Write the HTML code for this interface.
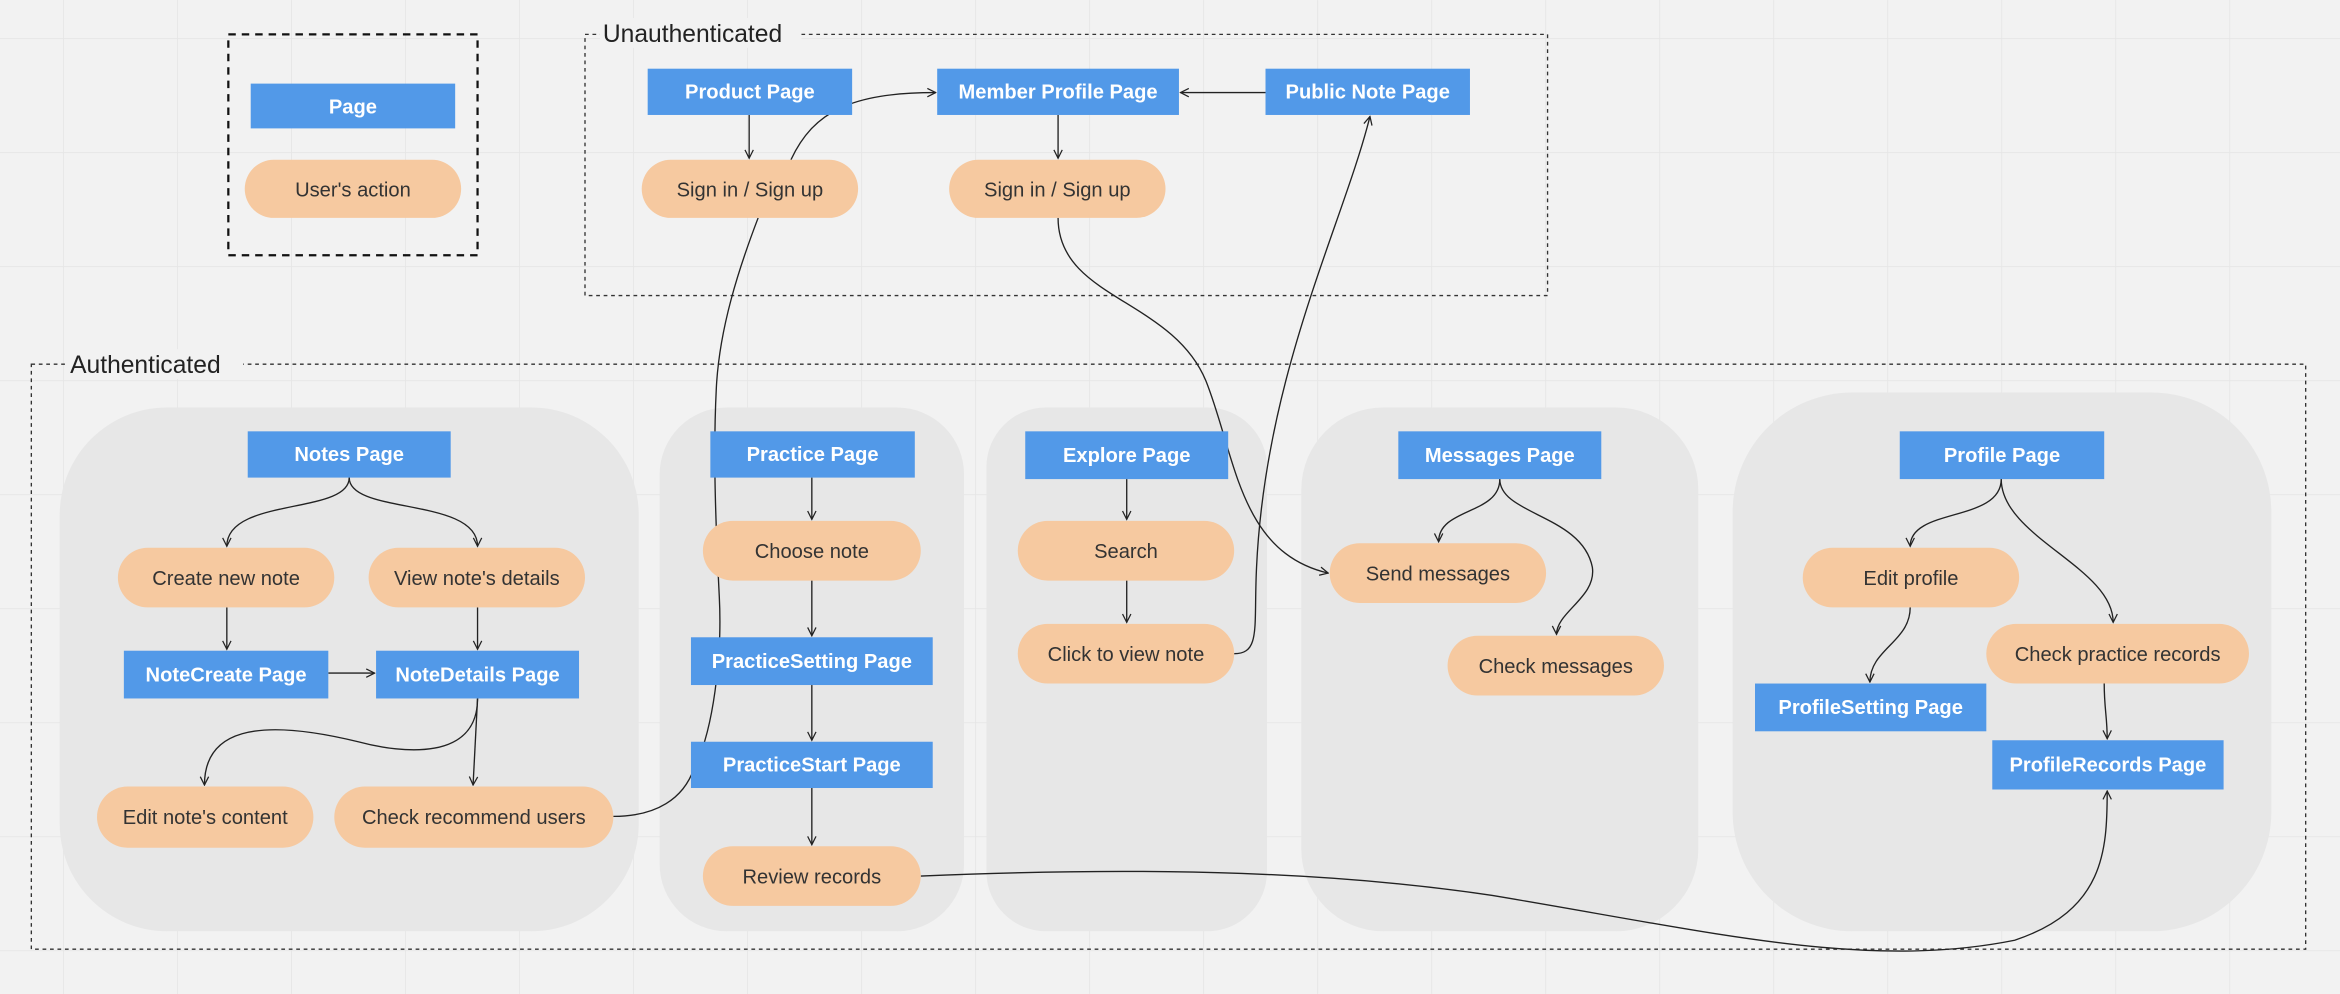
<!DOCTYPE html>
<html><head><meta charset="utf-8"><style>
html,body{margin:0;padding:0;background:#f2f2f2;}
svg{display:block;}
.pg{fill:#5299e8;}
.pl{fill:#f6c9a0;}
.pt{font-family:"Liberation Sans",sans-serif;font-weight:bold;font-size:13.5px;fill:#fff;text-anchor:middle;}
.at{font-family:"Liberation Sans",sans-serif;font-size:13.5px;fill:#333;text-anchor:middle;}
.c{fill:none;stroke:#222;stroke-width:0.9;}
.lbl{font-family:"Liberation Sans",sans-serif;font-size:16.5px;fill:#222;}
</style></head><body>
<svg width="2340" height="994" viewBox="0 0 1568 666" xmlns="http://www.w3.org/2000/svg">
<defs>
<pattern id="g" x="42.2" y="25.5" width="76.4" height="76.4" patternUnits="userSpaceOnUse">
<path d="M0 0H76.4M0 0V76.4" stroke="#e6e6e6" stroke-width="1.2" fill="none"/>
</pattern>
<marker id="a" viewBox="0 0 10 10" refX="9" refY="5" markerWidth="7" markerHeight="7" orient="auto-start-reverse" markerUnits="userSpaceOnUse">
<path d="M1 1L9 5L1 9" fill="none" stroke="#222" stroke-width="1.2"/>
</marker>
</defs>
<rect width="1568" height="666" fill="#f2f2f2"/>
<rect width="1568" height="666" fill="url(#g)"/>

<!-- legend -->
<rect x="153" y="23" width="167" height="148" fill="none" stroke="#111" stroke-width="1.5" stroke-dasharray="5,4"/>
<rect class="pg" x="168" y="56" width="137" height="30"/>
<text class="pt" x="236.5" y="76">Page</text>
<rect class="pl" x="164" y="107" width="145" height="39" rx="19.5"/>
<text class="at" x="236.5" y="131.5">User's action</text>

<!-- unauthenticated -->
<rect x="392" y="23" width="645" height="175" fill="none" stroke="#333" stroke-width="0.9" stroke-dasharray="2.5,2.5"/>
<rect x="402" y="12" width="135" height="20" fill="#f2f2f2"/>
<text class="lbl" x="404" y="28">Unauthenticated</text>

<!-- authenticated -->
<rect x="21" y="244" width="1524" height="392" fill="none" stroke="#333" stroke-width="0.9" stroke-dasharray="2.5,2.5"/>
<rect x="45" y="234" width="118" height="20" fill="#f2f2f2"/>
<text class="lbl" x="47" y="250">Authenticated</text>

<!-- panels -->
<rect x="40" y="273" width="388" height="351" rx="72" fill="#e7e7e7"/>
<rect x="442" y="273" width="204" height="351" rx="45" fill="#e7e7e7"/>
<rect x="661" y="273" width="188" height="351" rx="40" fill="#e7e7e7"/>
<rect x="872" y="273" width="266" height="351" rx="55" fill="#e7e7e7"/>
<rect x="1161" y="263" width="361" height="361" rx="80" fill="#e7e7e7"/>

<!-- connectors -->
<path class="c" d="M502 77V106" marker-end="url(#a)"/>
<path class="c" d="M530 107C545 75 570 62 627 62" marker-end="url(#a)"/>
<path class="c" d="M709 77V106" marker-end="url(#a)"/>
<path class="c" d="M848 62H791" marker-end="url(#a)"/>
<path class="c" d="M411 547C440 547 458 535 465 515C478 490 484 440 482 400C479 340 478 300 480 260C482 220 495 180 508 146"/>
<path class="c" d="M709 146C709 200 785 200 808 255C828 305 830 370 890 384" marker-end="url(#a)"/>
<path class="c" d="M827 438C845 438 840 420 842 380C848 250 900 150 918 78" marker-end="url(#a)"/>
<path class="c" d="M234 320C234 345 152 333 152 366" marker-end="url(#a)"/>
<path class="c" d="M234 320C234 345 320 333 320 366" marker-end="url(#a)"/>
<path class="c" d="M152 407V435" marker-end="url(#a)"/>
<path class="c" d="M320 407V435" marker-end="url(#a)"/>
<path class="c" d="M220 451H251" marker-end="url(#a)"/>
<path class="c" d="M320 468C320 510 270 505 240 497C170 480 137 490 137 526" marker-end="url(#a)"/>
<path class="c" d="M320 468L317 526" marker-end="url(#a)"/>
<path class="c" d="M544 320V348" marker-end="url(#a)"/>
<path class="c" d="M544 389V426" marker-end="url(#a)"/>
<path class="c" d="M544 459V496" marker-end="url(#a)"/>
<path class="c" d="M544 528V566" marker-end="url(#a)"/>
<path class="c" d="M617 587C780 580 900 585 1000 600C1150 625 1250 650 1350 630C1410 610 1412 570 1412 530" marker-end="url(#a)"/>
<path class="c" d="M755 321V348" marker-end="url(#a)"/>
<path class="c" d="M755 389V417" marker-end="url(#a)"/>
<path class="c" d="M1005 321C1005 345 964 340 964 363" marker-end="url(#a)"/>
<path class="c" d="M1005 321C1005 345 1060 345 1067 380C1070 400 1043 410 1043 425" marker-end="url(#a)"/>
<path class="c" d="M1341 321C1341 350 1280 340 1280 366" marker-end="url(#a)"/>
<path class="c" d="M1341 321C1341 360 1416 380 1416 417" marker-end="url(#a)"/>
<path class="c" d="M1280 407C1280 430 1253 435 1253 457" marker-end="url(#a)"/>
<path class="c" d="M1410 458C1410 475 1412 480 1412 495" marker-end="url(#a)"/>

<!-- pages -->
<rect class="pg" x="434" y="46" width="137" height="31"/><text class="pt" x="502.5" y="66">Product Page</text>
<rect class="pg" x="628" y="46" width="162" height="31"/><text class="pt" x="709" y="66">Member Profile Page</text>
<rect class="pg" x="848" y="46" width="137" height="31"/><text class="pt" x="916.5" y="66">Public Note Page</text>
<rect class="pg" x="166" y="289" width="136" height="31"/><text class="pt" x="234" y="309">Notes Page</text>
<rect class="pg" x="83" y="436" width="137" height="32"/><text class="pt" x="151.5" y="456.5">NoteCreate Page</text>
<rect class="pg" x="252" y="436" width="136" height="32"/><text class="pt" x="320" y="456.5">NoteDetails Page</text>
<rect class="pg" x="476" y="289" width="137" height="31"/><text class="pt" x="544.5" y="309">Practice Page</text>
<rect class="pg" x="463" y="427" width="162" height="32"/><text class="pt" x="544" y="447.5">PracticeSetting Page</text>
<rect class="pg" x="463" y="497" width="162" height="31"/><text class="pt" x="544" y="517">PracticeStart Page</text>
<rect class="pg" x="687" y="289" width="136" height="32"/><text class="pt" x="755" y="309.5">Explore Page</text>
<rect class="pg" x="937" y="289" width="136" height="32"/><text class="pt" x="1005" y="309.5">Messages Page</text>
<rect class="pg" x="1273" y="289" width="137" height="32"/><text class="pt" x="1341.5" y="309.5">Profile Page</text>
<rect class="pg" x="1176" y="458" width="155" height="32"/><text class="pt" x="1253.5" y="478.5">ProfileSetting Page</text>
<rect class="pg" x="1335" y="496" width="155" height="33"/><text class="pt" x="1412.5" y="517">ProfileRecords Page</text>

<!-- actions -->
<rect class="pl" x="430" y="107" width="145" height="39" rx="19.5"/><text class="at" x="502.5" y="131.5">Sign in / Sign up</text>
<rect class="pl" x="636" y="107" width="145" height="39" rx="19.5"/><text class="at" x="708.5" y="131.5">Sign in / Sign up</text>
<rect class="pl" x="79" y="367" width="145" height="40" rx="20"/><text class="at" x="151.5" y="392">Create new note</text>
<rect class="pl" x="247" y="367" width="145" height="40" rx="20"/><text class="at" x="319.5" y="392">View note's details</text>
<rect class="pl" x="65" y="527" width="145" height="41" rx="20.5"/><text class="at" x="137.5" y="552">Edit note's content</text>
<rect class="pl" x="224" y="527" width="187" height="41" rx="20.5"/><text class="at" x="317.5" y="552">Check recommend users</text>
<rect class="pl" x="471" y="349" width="146" height="40" rx="20"/><text class="at" x="544" y="374">Choose note</text>
<rect class="pl" x="471" y="567" width="146" height="40" rx="20"/><text class="at" x="544" y="592">Review records</text>
<rect class="pl" x="682" y="349" width="145" height="40" rx="20"/><text class="at" x="754.5" y="374">Search</text>
<rect class="pl" x="682" y="418" width="145" height="40" rx="20"/><text class="at" x="754.5" y="443">Click to view note</text>
<rect class="pl" x="891" y="364" width="145" height="40" rx="20"/><text class="at" x="963.5" y="389">Send messages</text>
<rect class="pl" x="970" y="426" width="145" height="40" rx="20"/><text class="at" x="1042.5" y="451">Check messages</text>
<rect class="pl" x="1208" y="367" width="145" height="40" rx="20"/><text class="at" x="1280.5" y="392">Edit profile</text>
<rect class="pl" x="1331" y="418" width="176" height="40" rx="20"/><text class="at" x="1419" y="443">Check practice records</text>
</svg>
</body></html>
